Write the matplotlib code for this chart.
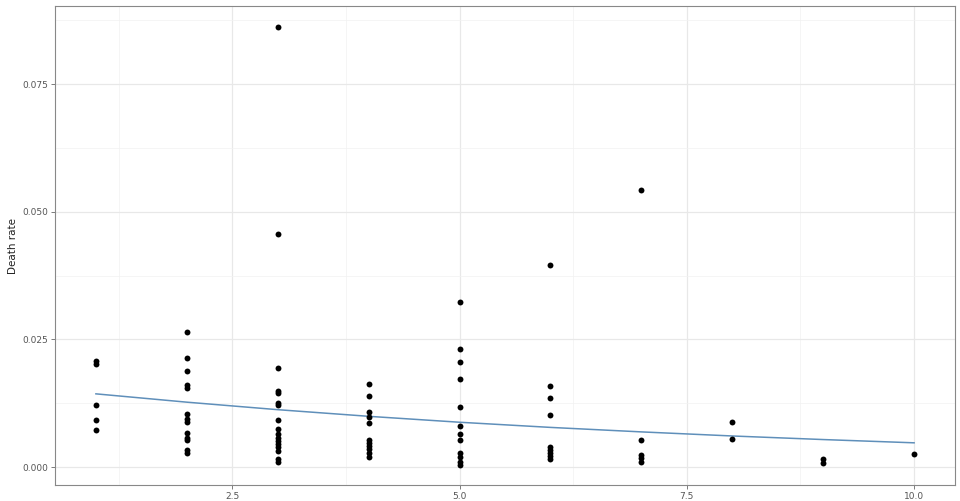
import matplotlib
matplotlib.use("Agg")
import matplotlib.pyplot as plt
import numpy as np

# ---- data ----
rate_x1 = [0.0207, 0.0201, 0.0122, 0.0092, 0.0072]
rate_x2 = [0.0264, 0.0214, 0.0189, 0.0160, 0.0155, 0.0105, 0.0095, 0.0089,
           0.0067, 0.0058, 0.0053, 0.0033, 0.0028]
rate_x3 = [0.0861, 0.0456, 0.0195, 0.0149, 0.0146, 0.0126, 0.0121, 0.0092,
           0.0074, 0.0064, 0.0058, 0.0052, 0.0045, 0.0039, 0.0032, 0.0015, 0.0011]
rate_x4 = [0.0162, 0.0139, 0.0108, 0.0098, 0.0087, 0.0054, 0.0048, 0.0041,
           0.0035, 0.0028, 0.0019]
rate_x5 = [0.0323, 0.0232, 0.0206, 0.0173, 0.0118, 0.0080, 0.0065, 0.0053,
           0.0027, 0.0019, 0.0010, 0.0005]
rate_x6 = [0.0396, 0.0159, 0.0135, 0.0102, 0.0040, 0.0034, 0.0028, 0.0021, 0.0015]
rate_x7 = [0.0543, 0.0053, 0.0024, 0.0017, 0.0010]
rate_x8 = [0.0088, 0.0055]
rate_x9 = [0.0015, 0.0008]
rate_x10 = [0.0025]

groups = [1, 2, 3, 4, 5, 6, 7, 8, 9, 10]
rates = [rate_x1, rate_x2, rate_x3, rate_x4, rate_x5, rate_x6, rate_x7,
         rate_x8, rate_x9, rate_x10]

fit_x = [1, 2, 3, 4, 5, 6, 7, 8, 9, 10]
fit_y = [0.01435, 0.01272, 0.01125, 0.00995, 0.00879, 0.00778, 0.00690,
         0.00610, 0.00540, 0.00476]

x_ticks = [2.5, 5.0, 7.5, 10.0]
x_tick_labels = ["2.5", "5.0", "7.5", "10.0"]
y_ticks = [0.000, 0.025, 0.050, 0.075]
y_tick_labels = ["0.000", "0.025", "0.050", "0.075"]
y_label = "Death rate"

# ---- figure ----
fig = plt.figure(figsize=(9.6, 5.01), dpi=100)
ax = fig.add_axes([55 / 960, 16 / 501, 900 / 960, 479 / 501])

xs = []
ys = []
for g, r in zip(groups, rates):
    xs.extend([g] * len(r))
    ys.extend(r)

ax.set_axisbelow(True)
ax.plot(fit_x, fit_y, color="#5f8fba", lw=1.1, zorder=2)
ax.scatter(xs, ys, s=18, color="black", zorder=3, linewidths=0)

ax.set_xlim(0.55, 10.45)
ax.set_ylim(-0.0035, 0.0903)

ax.set_xticks(x_ticks)
ax.set_xticklabels(x_tick_labels)
ax.set_yticks(y_ticks)
ax.set_yticklabels(y_tick_labels)
ax.set_xticks([1.25, 3.75, 6.25, 8.75], minor=True)
ax.set_yticks([0.0125, 0.0375, 0.0625, 0.0875], minor=True)

ax.grid(which="major", color="#e8e8e8", lw=0.9)
ax.grid(which="minor", color="#f2f2f2", lw=0.5)

ax.tick_params(which="major", length=3, width=0.6, color="#666666",
               labelsize=6.5, labelcolor="#555555", pad=2)
ax.tick_params(which="minor", length=0)

for sp in ax.spines.values():
    sp.set_color("#888888")
    sp.set_linewidth(0.8)

ax.set_ylabel(y_label, fontsize=7.5, color="#222222", labelpad=3)

fig.savefig("out.png", dpi=100)
